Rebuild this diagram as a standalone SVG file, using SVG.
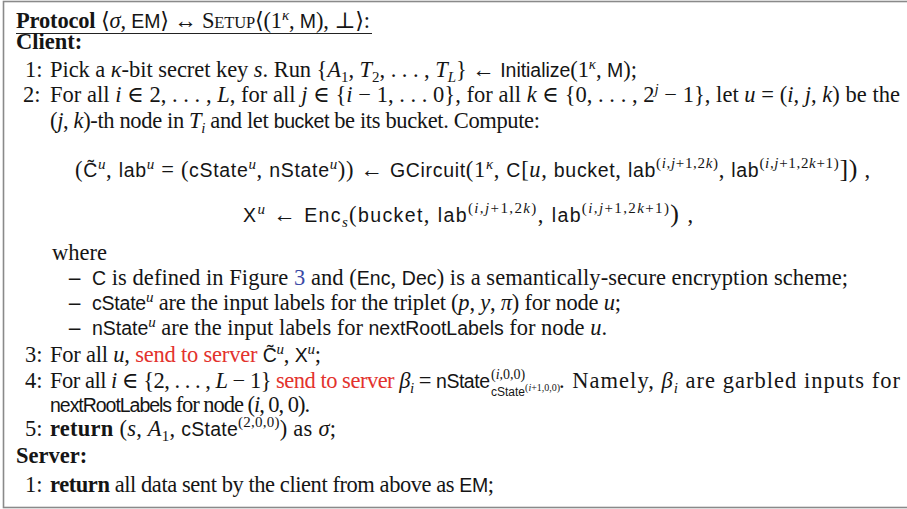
<svg xmlns="http://www.w3.org/2000/svg" width="907" height="509" viewBox="0 0 907 509">
<style>
.t{font-family:"Liberation Serif","DejaVu Serif",serif;font-size:22.5px;fill:#151515}
.s{font-family:"Liberation Sans","DejaVu Sans",sans-serif;font-size:19.5px;font-style:normal}
.i{font-style:italic}
.b{font-weight:bold}
.r{fill:#e3322d}
.lnk{fill:#3a49a6}
.sm{font-size:15px}
.box{fill:none;stroke:#8a8a8a;stroke-width:1.6}
</style>
<rect class="box" x="3.5" y="1.5" width="912" height="506"/>
<g id="header">
<text class="t" x="16" y="28" textLength="354" lengthAdjust="spacing"><tspan class="b">Protocol</tspan> ⟨<tspan class="i">σ</tspan>, <tspan class="s">EM</tspan>⟩ ↔ S<tspan font-size="16.5">ETUP</tspan>⟨(1<tspan class="sm i" dy="-8">κ</tspan><tspan dy="8">, </tspan><tspan class="s">M</tspan>), ⊥⟩:</text>
<line x1="16" y1="33.5" x2="372" y2="33.5" stroke="#222" stroke-width="1.2"/>
</g>
<g id="client">
<text class="t b" x="16" y="49">Client:</text>
<text class="t" x="25" y="77">1:</text>
<text class="t" x="50" y="77" textLength="587" lengthAdjust="spacing">Pick a <tspan class="i">κ</tspan>-bit secret key <tspan class="i">s</tspan>. Run {<tspan class="i">A</tspan><tspan class="sm" dy="5">1</tspan><tspan dy="-5">, </tspan><tspan class="i">T</tspan><tspan class="sm" dy="5">2</tspan><tspan dy="-5">, . . . , </tspan><tspan class="i">T</tspan><tspan class="sm i" dy="5">L</tspan><tspan dy="-5">} ← </tspan><tspan class="s">Initialize</tspan>(1<tspan class="sm i" dy="-8">κ</tspan><tspan dy="8">, </tspan><tspan class="s">M</tspan>);</text>
<text class="t" x="23" y="102">2:</text>
<text class="t" x="50" y="102" textLength="850" lengthAdjust="spacing">For all <tspan class="i">i</tspan> ∈ 2, . . . , <tspan class="i">L</tspan>, for all <tspan class="i">j</tspan> ∈ {<tspan class="i">i</tspan> − 1, . . . 0}, for all <tspan class="i">k</tspan> ∈ {0, . . . , 2<tspan class="sm i" dy="-8">j</tspan><tspan dy="8"> − 1}, let </tspan><tspan class="i">u</tspan> = (<tspan class="i">i</tspan>, <tspan class="i">j</tspan>, <tspan class="i">k</tspan>) be the</text>
<text class="t" x="50" y="128" textLength="490" lengthAdjust="spacing">(<tspan class="i">j</tspan>, <tspan class="i">k</tspan>)-th node in <tspan class="i">T</tspan><tspan class="sm i" dy="5">i</tspan><tspan dy="-5"> and let </tspan><tspan class="s">bucket</tspan> be its bucket. Compute:</text>
<text class="t" x="75" y="177" textLength="795" lengthAdjust="spacing">(<tspan class="s">C̃</tspan><tspan class="sm i" dy="-8">u</tspan><tspan dy="8">, </tspan><tspan class="s">lab</tspan><tspan class="sm i" dy="-8">u</tspan><tspan dy="8"> = (</tspan><tspan class="s">cState</tspan><tspan class="sm i" dy="-8">u</tspan><tspan dy="8">, </tspan><tspan class="s">nState</tspan><tspan class="sm i" dy="-8">u</tspan><tspan dy="8">)) ← </tspan><tspan class="s">GCircuit</tspan>(1<tspan class="sm i" dy="-8">κ</tspan><tspan dy="8">, </tspan><tspan class="s">C</tspan>[<tspan class="i">u</tspan>, <tspan class="s">bucket</tspan>, <tspan class="s">lab</tspan><tspan class="sm" dy="-9">(<tspan class="i">i</tspan>,<tspan class="i">j</tspan>+1,2<tspan class="i">k</tspan>)</tspan><tspan dy="9">, </tspan><tspan class="s">lab</tspan><tspan class="sm" dy="-9">(<tspan class="i">i</tspan>,<tspan class="i">j</tspan>+1,2<tspan class="i">k</tspan>+1)</tspan><tspan dy="9" font-size="26">])</tspan> ,</text>
<text class="t" x="243" y="222" textLength="450" lengthAdjust="spacing"><tspan class="s">X</tspan><tspan class="sm i" dy="-8">u</tspan><tspan dy="8"> ← </tspan><tspan class="s">Enc</tspan><tspan class="sm i" dy="5">s</tspan><tspan dy="-5">(</tspan><tspan class="s">bucket</tspan>, <tspan class="s">lab</tspan><tspan class="sm" dy="-9">(<tspan class="i">i</tspan>,<tspan class="i">j</tspan>+1,2<tspan class="i">k</tspan>)</tspan><tspan dy="9">, </tspan><tspan class="s">lab</tspan><tspan class="sm" dy="-9">(<tspan class="i">i</tspan>,<tspan class="i">j</tspan>+1,2<tspan class="i">k</tspan>+1)</tspan><tspan dy="9" font-size="26">)</tspan> ,</text>
<text class="t" x="52" y="260">where</text>
<text class="t b" x="69" y="285">–</text>
<text class="t" x="92" y="285" textLength="756" lengthAdjust="spacing"><tspan class="s">C</tspan> is defined in Figure <tspan class="lnk">3</tspan> and (<tspan class="s">Enc</tspan>, <tspan class="s">Dec</tspan>) is a semantically-secure encryption scheme;</text>
<text class="t b" x="69" y="310">–</text>
<text class="t" x="92" y="310" textLength="529" lengthAdjust="spacing"><tspan class="s">cState</tspan><tspan class="sm i" dy="-8">u</tspan><tspan dy="8"> are the input labels for the triplet (</tspan><tspan class="i">p</tspan>, <tspan class="i">y</tspan>, <tspan class="i">π</tspan>) for node <tspan class="i">u</tspan>;</text>
<text class="t b" x="69" y="335">–</text>
<text class="t" x="92" y="335" textLength="515" lengthAdjust="spacing"><tspan class="s">nState</tspan><tspan class="sm i" dy="-8">u</tspan><tspan dy="8"> are the input labels for </tspan><tspan class="s">nextRootLabels</tspan> for node <tspan class="i">u</tspan>.</text>
<text class="t" x="25" y="362">3:</text>
<text class="t" x="50" y="362" textLength="271" lengthAdjust="spacing">For all <tspan class="i">u</tspan>, <tspan class="r">send to server</tspan> <tspan class="s">C̃</tspan><tspan class="sm i" dy="-8">u</tspan><tspan dy="8">, </tspan><tspan class="s">X</tspan><tspan class="sm i" dy="-8">u</tspan><tspan dy="8">;</tspan></text>
<text class="t" x="25" y="388">4:</text>
<text class="t" x="50" y="388" textLength="440" lengthAdjust="spacing">For all <tspan class="i">i</tspan> ∈ {2, . . . , <tspan class="i">L</tspan> − 1} <tspan class="r">send to server</tspan> <tspan class="i">β</tspan><tspan class="sm i" dy="5">i</tspan><tspan dy="-5"> = </tspan><tspan class="s">nState</tspan></text>
<text class="t" x="491" y="379" style="font-size:14px">(<tspan class="i">i</tspan>,0,0)</text>
<text class="t" x="491" y="396"><tspan class="s" style="font-size:12px">cState</tspan><tspan style="font-size:10px" dy="-5">(<tspan class="i">i</tspan>+1,0,0)</tspan></text>
<text class="t" x="559" y="388" textLength="341" lengthAdjust="spacing">. Namely, <tspan class="i">β</tspan><tspan class="sm i" dy="5">i</tspan><tspan dy="-5"> are garbled inputs for</tspan></text>
<text class="t" x="50" y="412" textLength="260" lengthAdjust="spacing"><tspan class="s">nextRootLabels</tspan> for node (<tspan class="i">i</tspan>, 0, 0).</text>
<text class="t" x="25" y="436">5:</text>
<text class="t" x="50" y="436" textLength="286" lengthAdjust="spacing"><tspan class="b">return</tspan> (<tspan class="i">s</tspan>, <tspan class="i">A</tspan><tspan class="sm" dy="5">1</tspan><tspan dy="-5">, </tspan><tspan class="s">cState</tspan><tspan class="sm" dy="-9">(2,0,0)</tspan><tspan dy="9">) as </tspan><tspan class="i">σ</tspan>;</text>
</g>
<g id="server">
<text class="t b" x="16" y="463">Server:</text>
<text class="t" x="25" y="492">1:</text>
<text class="t" x="50" y="492" textLength="444" lengthAdjust="spacing"><tspan class="b">return</tspan> all data sent by the client from above as <tspan class="s">EM</tspan>;</text>
</g>
</svg>
